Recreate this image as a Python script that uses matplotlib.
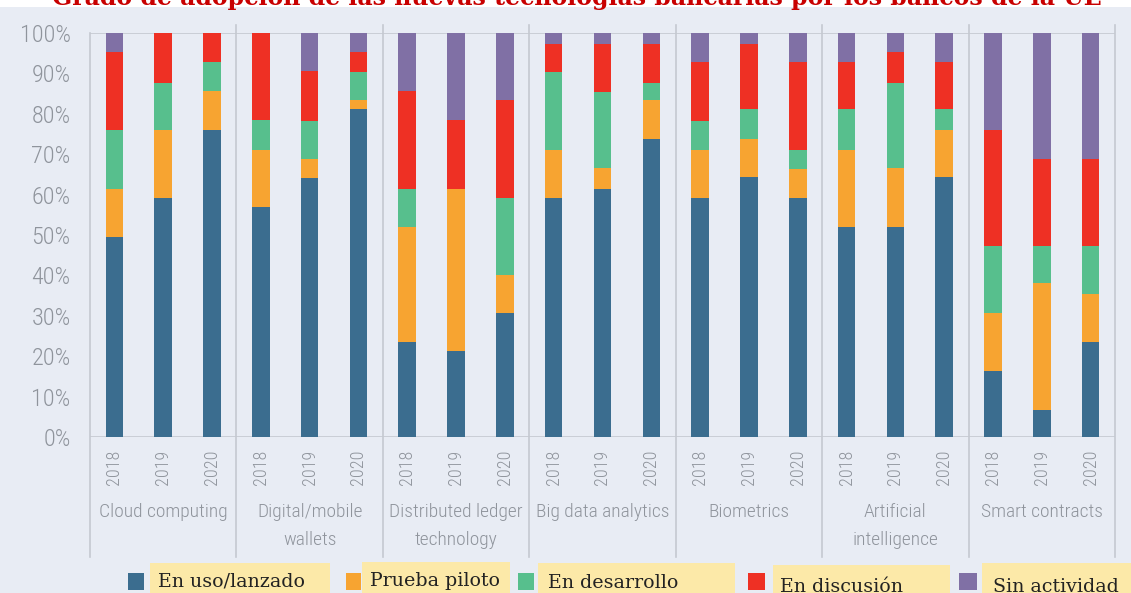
import matplotlib
matplotlib.use("Agg")
import matplotlib.pyplot as plt
import matplotlib.transforms as mtransforms
from matplotlib.patches import Rectangle
from matplotlib import font_manager
import numpy as np

# ---------------- data ----------------
groups = ["Cloud computing", "Digital/mobile\nwallets", "Distributed ledger\ntechnology",
          "Big data analytics", "Biometrics", "Artificial\nintelligence", "Smart contracts"]
years = ["2018", "2019", "2020"]
series_names = ["En uso/lanzado", "Prueba piloto", "En desarrollo", "En discusión", "Sin actividad"]

en_uso = [49.5, 59.2, 75.9, 57.0, 64.1, 81.1, 23.4, 21.2, 30.7, 59.2, 61.4, 73.7,
          59.2, 64.3, 59.2, 51.9, 51.9, 64.3, 16.3, 6.8, 23.4]
prueba = [11.9, 16.7, 9.7, 14.0, 4.7, 2.3, 28.5, 40.1, 9.5, 11.8, 5.2, 9.7,
          11.8, 9.4, 7.1, 19.1, 14.7, 11.6, 14.4, 31.2, 11.9]
desarrollo = [14.5, 11.8, 7.3, 7.4, 9.4, 7.0, 9.4, 0.0, 19.0, 19.4, 18.9, 4.3,
              7.2, 7.4, 4.8, 10.1, 21.1, 5.2, 16.6, 9.3, 12.0]
discusion = [19.3, 12.3, 7.1, 21.6, 12.5, 4.8, 24.3, 17.1, 24.2, 6.9, 11.8, 9.6,
             14.7, 16.2, 21.8, 11.8, 7.5, 11.8, 28.6, 21.5, 21.5]
sin_actividad = [4.8, 0.0, 0.0, 0.0, 9.3, 4.8, 14.4, 21.6, 16.6, 2.7, 2.7, 2.7,
                 7.1, 2.7, 7.1, 7.1, 4.8, 7.1, 24.1, 31.2, 31.2]

colors = ["#3b6d8f", "#f7a431", "#57bf8d", "#ee3024", "#8070a5"]

title = "Grado de adopción de las nuevas tecnologías bancarias por los bancos de la UE"

# ---------------- fonts ----------------
available = {f.name for f in font_manager.fontManager.ttflist}
cond = [f for f in ["Roboto Condensed", "DejaVu Sans Condensed", "Liberation Sans Narrow"]
        if f in available]
scale = 1.0 if cond else 0.8
cond = cond + ["DejaVu Sans"]

# ---------------- figure ----------------
W, H = 1131, 593
BG = "#e8ecf4"
fig = plt.figure(figsize=(W / 100, H / 100), dpi=100, facecolor=BG)

def fx(x):
    return x / W

def fy(y):
    return 1 - y / H

# white strip with title
fig.patches.append(Rectangle((0, fy(7)), 1, 7 / H, transform=fig.transFigure,
                             facecolor="white", edgecolor="none", zorder=0))
fig.text(fx(577), fy(5), title, ha="center", va="baseline", fontsize=17,
         fontweight="bold", family="DejaVu Serif", color="#c80000", zorder=5)

left, right, top, bottom = 90, 1115, 33, 437
ax = fig.add_axes([fx(left), fy(bottom), (right - left) / W, (bottom - top) / H])
ax.set_facecolor(BG)

n = len(groups) * len(years)
x = np.arange(n)
data = [en_uso, prueba, desarrollo, discusion, sin_actividad]
base = np.zeros(n)
for vals, c, name in zip(data, colors, series_names):
    v = np.array(vals)
    ax.bar(x, v, bottom=base, width=0.36, color=c, label=name, zorder=2)
    base += v

ax.set_xlim(-0.5, n - 0.5)
ax.set_ylim(0, 100)
for s in ax.spines.values():
    s.set_visible(False)

tickcol = "#8f949c"
ax.set_yticks(np.arange(0, 101, 10))
ax.set_yticklabels([f"{v}%" for v in range(0, 101, 10)], family=cond, weight="light",
                   fontsize=17.5 * scale, color=tickcol)
ax.tick_params(axis="y", length=0, pad=14)

ax.set_xticks(x)
ax.set_xticklabels(years * len(groups), rotation=90, family=cond, weight="light",
                   fontsize=13 * scale, color=tickcol)
ax.tick_params(axis="x", length=0, pad=9)

linecol = "#c5c9d1"
trans = mtransforms.blended_transform_factory(ax.transData, ax.transAxes)
ax.axhline(0, color=linecol, lw=1.2, zorder=1)
ax.axhline(100, color=linecol, lw=1.2, zorder=1)

ylow = (bottom - 557) / (bottom - top)
yhigh = (bottom - 25) / (bottom - top)
for k in range(len(groups) + 1):
    xs = k * 3 - 0.5
    yt = 1.0 if k == 0 else yhigh
    ax.plot([xs, xs], [ylow, yt], transform=trans, color=linecol, lw=1.2,
            clip_on=False, zorder=1)

ygl = (bottom - 503) / (bottom - top)
for k, g in enumerate(groups):
    ax.text(k * 3 + 1, ygl, g, transform=trans, ha="center", va="top",
            family=cond, weight="light", fontsize=14 * scale, color=tickcol,
            linespacing=1.7)

# ---------------- legend ----------------
legend_items = [
    # square x0, x1, box x0, x1, box top, text x, text baseline
    (128, 144, 150, 330, 563, 158, 587),
    (346, 361, 362, 510, 562, 370, 586),
    (518, 534, 538, 735, 563, 548, 588),
    (748, 765, 773, 950, 565, 780, 592),
    (959, 977, 982, 1131, 563, 993, 592),
]
for (s0, s1, b0, b1, bt, tx, tb), c, name in zip(legend_items, colors, series_names):
    fig.patches.append(Rectangle((fx(b0), 0), (b1 - b0) / W, (H - bt) / H,
                                 transform=fig.transFigure, facecolor="#fce9a8",
                                 edgecolor="none", zorder=1))
    fig.patches.append(Rectangle((fx(s0), fy(590)), (s1 - s0) / W, 17 / H,
                                 transform=fig.transFigure, facecolor=c,
                                 edgecolor="none", zorder=2))
    fig.text(fx(tx), fy(tb), name, ha="left", va="baseline", fontsize=13.7,
             family="DejaVu Serif", color="#222222", zorder=3)

fig.savefig("out.png", dpi=100, facecolor=BG)
